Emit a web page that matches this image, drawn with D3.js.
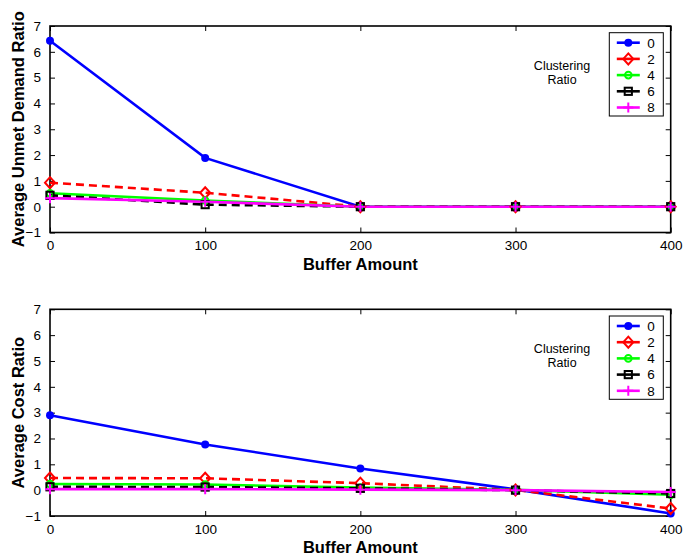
<!DOCTYPE html>
<html><head><meta charset="utf-8">
<script src="https://cdn.jsdelivr.net/npm/d3@7"></script>
<style>body{margin:0;background:#fff}svg{display:block}text{font-family:"Liberation Sans",Arial,Helvetica,sans-serif}</style>
</head><body>
<script>
const xValues = [0, 100, 200, 300, 400];
const xTicks = [0, 100, 200, 300, 400];
const yTicks = [-1, 0, 1, 2, 3, 4, 5, 6, 7];
const seriesNames = ["0", "2", "4", "6", "8"];
// Top panel: Average Unmet Demand Ratio
const unmet0 = [6.43, 1.89, 0, 0, 0];
const unmet2 = [0.93, 0.54, 0, 0, 0];
const unmet4 = [0.52, 0.24, 0, 0, 0];
const unmet6 = [0.44, 0.08, 0, 0, 0];
const unmet8 = [0.33, 0.19, 0, 0, 0];
// Bottom panel: Average Cost Ratio
const cost0 = [2.9, 1.77, 0.84, 0.03, -0.9];
const cost2 = [0.47, 0.46, 0.27, 0.01, -0.71];
const cost4 = [0.24, 0.22, 0.1, 0.01, -0.18];
const cost6 = [0.13, 0.12, 0.07, 0.0, -0.13];
const cost8 = [0.04, 0.04, 0.02, 0.0, -0.07];

const colors = ["#0000ff", "#ff0000", "#00ff00", "#000000", "#ff00ff"];
const dashes = [null, "8,5", null, "8,5", null];
const markers = ["dot", "diamond", "circle", "square", "plus"];

const W = 683, H = 555;
const svg = d3.select("body").append("svg").attr("width", W).attr("height", H);

function marker(g, type, x, y, color) {
  if (type === "dot") g.append("circle").attr("cx", x).attr("cy", y).attr("r", 4).attr("fill", color);
  else if (type === "circle") g.append("circle").attr("cx", x).attr("cy", y).attr("r", 3.3).attr("fill", "none").attr("stroke", color).attr("stroke-width", 2);
  else if (type === "diamond") g.append("path").attr("d", `M${x},${y-5.5}L${x+5},${y}L${x},${y+5.5}L${x-5},${y}Z`).attr("fill", "none").attr("stroke", color).attr("stroke-width", 2);
  else if (type === "square") g.append("rect").attr("x", x-3.6).attr("y", y-3.6).attr("width", 7.2).attr("height", 7.2).attr("fill", "none").attr("stroke", color).attr("stroke-width", 2);
  else if (type === "plus") g.append("path").attr("d", `M${x-5},${y}H${x+5}M${x},${y-5}V${y+5}`).attr("stroke", color).attr("stroke-width", 2);
}

function panel(top, bottom, data, ylabel) {
  const left = 50, right = 670.7;
  const x = d3.scaleLinear().domain([0, 400]).range([left, right]);
  const y = d3.scaleLinear().domain([-1, 7]).range([bottom, top]);
  const g = svg.append("g");

  const ax = (axis) => axis.tickSizeOuter(0);
  const gB = g.append("g").attr("transform", `translate(0,${bottom})`).call(ax(d3.axisBottom(x).tickValues(xTicks).tickSize(-5).tickPadding(8)));
  const gT = g.append("g").attr("transform", `translate(0,${top})`).call(ax(d3.axisTop(x).tickValues(xTicks).tickSize(-5)));
  gT.selectAll("text").remove();
  const gL = g.append("g").attr("transform", `translate(${left},0)`).call(ax(d3.axisLeft(y).tickValues(yTicks).tickSize(-5).tickPadding(9).tickFormat(d => d < 0 ? "\u2212" + Math.abs(d) : d)));
  const gR = g.append("g").attr("transform", `translate(${right},0)`).call(ax(d3.axisRight(y).tickValues(yTicks).tickSize(-5)));
  gR.selectAll("text").remove();
  [gB, gT, gL, gR].forEach(a => {
    a.select(".domain").remove();
    a.selectAll("line").attr("stroke", "#000").attr("stroke-width", 1);
    a.selectAll("text").attr("font-size", 13.5).attr("fill", "#000").style("font-family", "'Liberation Sans',Arial,sans-serif");
  });
  g.append("rect").attr("x", left).attr("y", top).attr("width", right - left).attr("height", bottom - top)
    .attr("fill", "none").attr("stroke", "#000").attr("stroke-width", 1.6);

  const line = d3.line().x((d, i) => x(xValues[i])).y(d => y(d));
  data.forEach((s, k) => {
    const p = g.append("path").attr("d", line(s)).attr("fill", "none").attr("stroke", colors[k]).attr("stroke-width", 2.6);
    if (dashes[k]) p.attr("stroke-dasharray", dashes[k]);
  });
  data.forEach((s, k) => {
    s.forEach((v, i) => marker(g, markers[k], x(xValues[i]), y(v), colors[k]));
  });

  g.append("text").attr("x", (left + right) / 2).attr("y", bottom + 37).attr("text-anchor", "middle")
    .attr("font-size", 16.5).attr("font-weight", "bold").text("Buffer Amount");
  g.append("text").attr("transform", `translate(24,${(top + bottom) / 2}) rotate(-90)`).attr("text-anchor", "middle")
    .attr("font-size", 16.5).attr("font-weight", "bold").text(ylabel);

  const lx = 609.3, lw = 54, ly = top + 6.7, lh = 83.3;
  g.append("rect").attr("x", lx).attr("y", ly).attr("width", lw).attr("height", lh).attr("fill", "#fff").attr("stroke", "#000").attr("stroke-width", 1);
  seriesNames.forEach((n, k) => {
    const yy = ly + 10 + k * 16.2;
    g.append("line").attr("x1", lx + 7.5).attr("x2", lx + 30.5).attr("y1", yy).attr("y2", yy).attr("stroke", colors[k]).attr("stroke-width", 2.6);
    marker(g, markers[k], lx + 19, yy, colors[k]);
    g.append("text").attr("x", lx + 38).attr("y", yy + 4.8).attr("font-size", 13.5).text(n);
  });
  g.append("text").attr("x", 562).attr("y", top + 43.8).attr("text-anchor", "middle").attr("font-size", 12.5).text("Clustering");
  g.append("text").attr("x", 562).attr("y", top + 58).attr("text-anchor", "middle").attr("font-size", 12.5).text("Ratio");
}

panel(26, 232.5, [unmet0, unmet2, unmet4, unmet6, unmet8], "Average Unmet Demand Ratio");
panel(309.3, 516, [cost0, cost2, cost4, cost6, cost8], "Average Cost Ratio");
</script>
</body></html>
